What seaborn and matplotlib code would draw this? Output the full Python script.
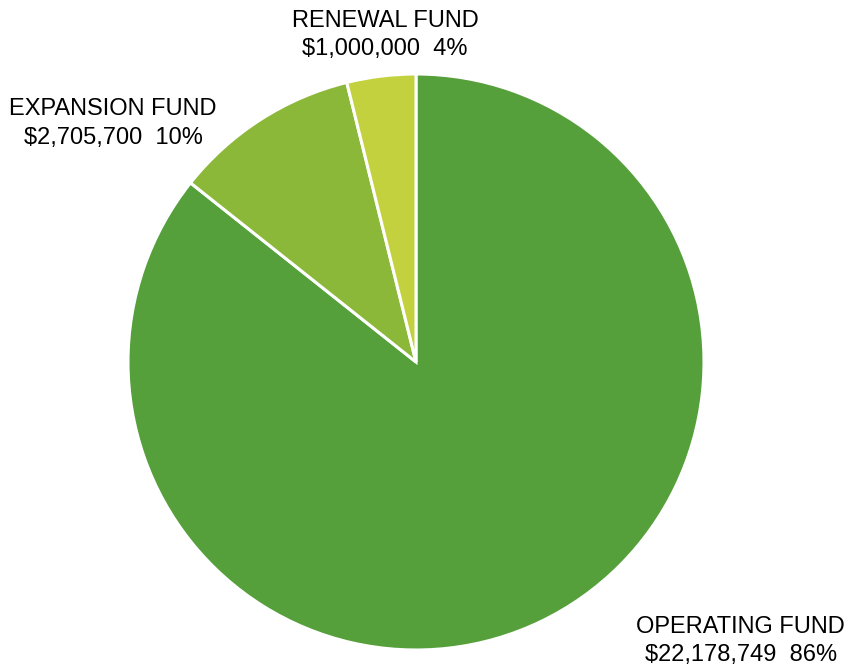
import matplotlib
matplotlib.use("Agg")
import matplotlib.pyplot as plt
import seaborn as sns

funds = ["OPERATING FUND", "EXPANSION FUND", "RENEWAL FUND"]
amounts = [22178749, 2705700, 1000000]
colors = ["#55A03B", "#8CB83A", "#C3D13E"]

# label anchor points in pie-radius units
label_x = [1.128, -1.052, -0.108]
label_y = [-0.969, 0.828, 1.135]

sns.set_theme(style="white")
plt.rcParams["font.family"] = ["Liberation Sans", "DejaVu Sans"]

fig = plt.figure(figsize=(8.52, 6.69), dpi=100)
ax = fig.add_axes([0, 0, 1, 1])

ax.pie(amounts, colors=colors, startangle=90, counterclock=False,
       radius=1.0, wedgeprops=dict(edgecolor="white", linewidth=2.2))

total = sum(amounts)
for name, amt, x, y in zip(funds, amounts, label_x, label_y):
    pct = round(100 * amt / total)
    ax.text(x, y, f"{name}\n${amt:,}  {pct}%", ha="center", va="center",
            fontsize=17, color="black", linespacing=1.36)

# 288 px per unit, pie centred at (416, 362) px
ax.set_xlim(-416 / 288, (852 - 416) / 288)
ax.set_ylim(-(669 - 362) / 288, 362 / 288)
ax.set_aspect("equal")
ax.axis("off")

fig.savefig("out.png", dpi=100, facecolor="white")
